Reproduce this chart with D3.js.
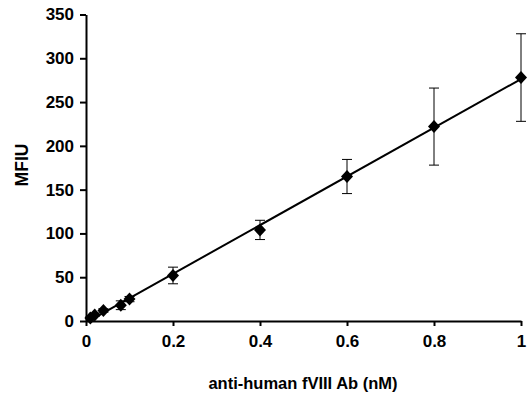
<!DOCTYPE html>
<html><head><meta charset="utf-8">
<script src="https://cdn.jsdelivr.net/npm/d3@7"></script>
<style>body{margin:0;background:#fff;}svg{display:block;font-family:"Liberation Sans",Arial,sans-serif;}
text{font-family:"Liberation Sans",Arial,sans-serif;font-weight:bold;fill:#000;}</style>
</head><body>
<svg id="c" width="528" height="393"></svg>
<script>
const concentrations = [0.01, 0.02, 0.04, 0.08, 0.1, 0.2, 0.4, 0.6, 0.8, 1.0];
const mfiu =          [3.5, 6.8, 12, 18, 25, 52, 104, 165, 222, 278];
const errors =        [1, 1.5, 2, 5, 3, 9.5, 11, 19.5, 44, 50];
const xTicks = [0, 0.2, 0.4, 0.6, 0.8, 1];
const yTicks = [0, 50, 100, 150, 200, 250, 300, 350];

const svg = d3.select("#c");
const x = d3.scaleLinear().domain([0, 1]).range([86, 521]);
const y = d3.scaleLinear().domain([0, 350]).range([321, 14.5]);

const data = concentrations.map((c, i) => ({x: c, y: mfiu[i], e: errors[i]}));

// axes
const xAxis = svg.append("g").attr("transform", `translate(0,${y(0)})`)
  .call(d3.axisBottom(x).tickValues(xTicks).tickFormat(d3.format("")).tickSize(5).tickSizeOuter(0).tickPadding(9));
const yAxis = svg.append("g").attr("transform", `translate(${x(0)},0)`)
  .call(d3.axisLeft(y).tickValues(yTicks).tickSize(6).tickSizeOuter(0).tickPadding(6));
[xAxis, yAxis].forEach(g => {
  g.attr("font-size", 17).attr("font-weight", "bold").attr("font-family", "Liberation Sans, Arial, sans-serif");
  g.select(".domain").attr("stroke", "#000").attr("stroke-width", 2);
  g.selectAll(".tick line").attr("stroke", "#000").attr("stroke-width", 2);
});

// fit line (least squares through data)
const mx = d3.mean(data, d => d.x), my = d3.mean(data, d => d.y);
const slope = d3.sum(data, d => (d.x - mx) * (d.y - my)) / d3.sum(data, d => (d.x - mx) ** 2);
const icpt = my - slope * mx;
const x0 = d3.min(concentrations), x1 = d3.max(concentrations);
svg.append("line")
  .attr("x1", x(x0)).attr("y1", y(icpt + slope * x0))
  .attr("x2", x(x1)).attr("y2", y(icpt + slope * x1))
  .attr("stroke", "#000").attr("stroke-width", 2);

// error bars
const eb = svg.append("g").attr("stroke", "#000").attr("stroke-width", 1);
data.forEach(d => {
  eb.append("line").attr("x1", x(d.x)).attr("x2", x(d.x)).attr("y1", y(d.y + d.e)).attr("y2", y(d.y - d.e));
  [d.y + d.e, d.y - d.e].forEach(v => {
    eb.append("line").attr("x1", x(d.x) - 5).attr("x2", x(d.x) + 5).attr("y1", y(v)).attr("y2", y(v));
  });
});

// markers
svg.append("g").selectAll("path").data(data).join("path")
  .attr("transform", d => `translate(${x(d.x)},${y(d.y)})`)
  .attr("d", "M0,-6.5L6,0L0,6.5L-6,0Z")
  .attr("fill", "#000");

// labels
svg.append("text").attr("x", 303).attr("y", 389).attr("text-anchor", "middle")
  .style("font-size", "16.5px").text("anti-human fVIII Ab (nM)");
svg.append("text").attr("transform", "translate(28,165) rotate(-90)").attr("text-anchor", "middle")
  .style("font-size", "17.5px").text("MFIU");
</script>
</body></html>
